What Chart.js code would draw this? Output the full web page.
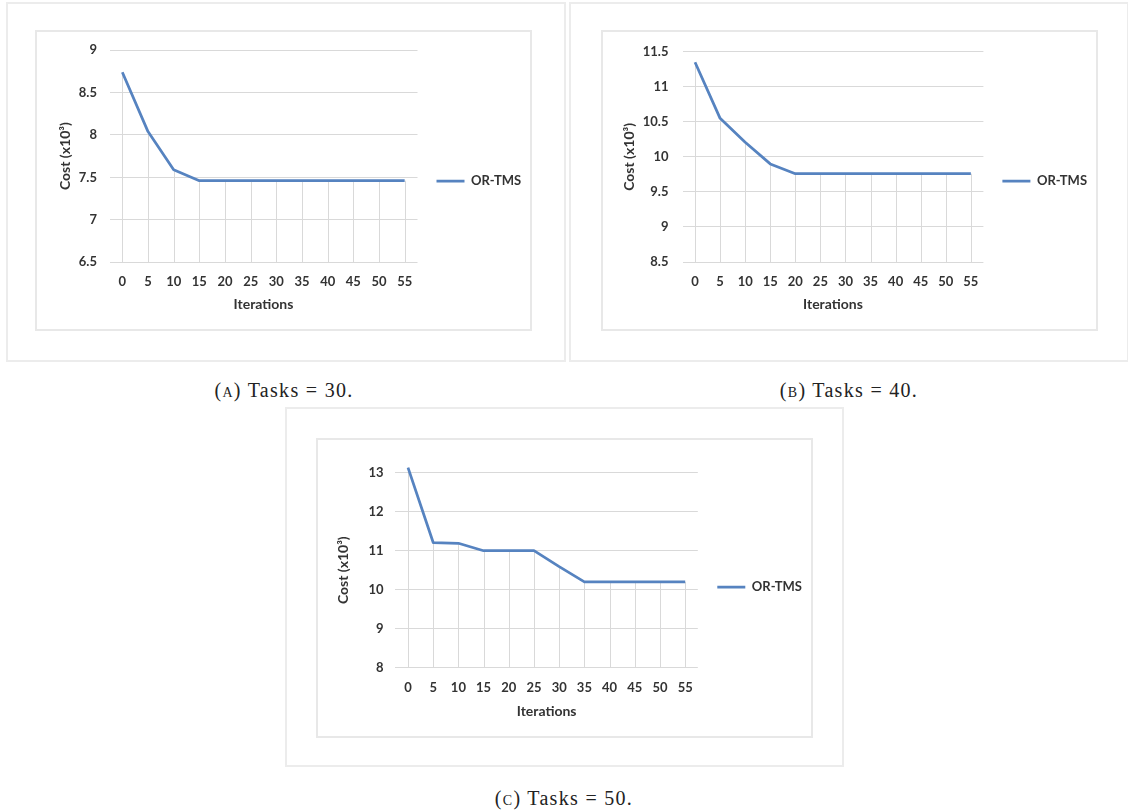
<!DOCTYPE html>
<html><head><meta charset="utf-8">
<script src="https://cdn.jsdelivr.net/npm/chart.js@4.4.0/dist/chart.umd.min.js"></script>
<style>
body{margin:0;background:#fff;width:1128px;height:811px;position:relative;overflow:hidden}
.outer{position:absolute;border:2px solid #ececec;box-sizing:border-box}
.inner{position:absolute;border:2px solid #e8e8e8;box-sizing:border-box}
canvas{position:absolute}
.cap{position:absolute;font-family:"Liberation Serif",serif;font-size:20px;line-height:20px;letter-spacing:1.3px;color:#222;text-align:center;width:300px;white-space:nowrap}
</style></head><body>
<div class="outer" style="left:6px;top:2px;width:560px;height:360px"></div>
<div class="outer" style="left:569px;top:2px;width:560px;height:360px"></div>
<div class="outer" style="left:285px;top:407px;width:559px;height:360px"></div>
<div class="inner" style="left:35px;top:30px;width:497px;height:301px"></div>
<div class="inner" style="left:601px;top:30px;width:497px;height:301px"></div>
<div class="inner" style="left:316px;top:438px;width:497px;height:300px"></div>
<canvas id="cA" style="left:35px;top:30px"></canvas>
<canvas id="cB" style="left:601px;top:30px"></canvas>
<canvas id="cC" style="left:316px;top:438px"></canvas>
<div class="cap" style="left:134px;top:380px">(<span style="font-variant:small-caps">a</span>) Tasks = 30.</div>
<div class="cap" style="left:699px;top:380px">(<span style="font-variant:small-caps">b</span>) Tasks = 40.</div>
<div class="cap" style="left:414px;top:788px">(<span style="font-variant:small-caps">c</span>) Tasks = 50.</div>
<script>
// ---- data ----
const iterations = [0, 5, 10, 15, 20, 25, 30, 35, 40, 45, 50, 55];
const costA = [8.74, 8.04, 7.59, 7.46, 7.46, 7.46, 7.46, 7.46, 7.46, 7.46, 7.46, 7.46];
const costB = [11.35, 10.55, 10.21, 9.9, 9.76, 9.76, 9.76, 9.76, 9.76, 9.76, 9.76, 9.76];
const costC = [13.13, 11.21, 11.19, 11.0, 11.0, 11.0, 10.59, 10.2, 10.2, 10.2, 10.2, 10.2];
const yTicksA = [6.5, 7, 7.5, 8, 8.5, 9];
const yTicksB = [8.5, 9, 9.5, 10, 10.5, 11, 11.5];
const yTicksC = [8, 9, 10, 11, 12, 13];
const seriesName = 'OR-TMS';
const xTitle = 'Iterations';
const yTitle = 'Cost (x10\u00B3)';

const FONT = 'Lato';
const TXT = '#333333';
const LINE = '#5683c0';
const GRID = '#d9d9d9';
const fsTick = 13, fsTitle = 14, fsLeg = 13, pw = 28;

const dropLines = {
  id: 'dropLines',
  beforeDatasetsDraw(chart) {
    const {ctx, chartArea} = chart;
    const meta = chart.getDatasetMeta(0);
    ctx.save();
    ctx.strokeStyle = GRID; ctx.lineWidth = 1;
    meta.data.forEach(pt => {
      const x = Math.round(pt.x) + 0.5;
      ctx.beginPath(); ctx.moveTo(x, pt.y); ctx.lineTo(x, chartArea.bottom); ctx.stroke();
    });
    ctx.restore();
  }
};

function measure(text, font) {
  const c = document.createElement('canvas').getContext('2d');
  c.font = font; return c.measureText(text).width;
}

function makeChart(id, values, yTicks, L) {
  const cv = document.getElementById(id);
  cv.width = L.W; cv.height = L.H;
  cv.style.width = L.W + 'px'; cv.style.height = L.H + 'px';
  const textW = measure(seriesName, 'bold ' + fsLeg + 'px ' + FONT);
  const legW = L.lp + pw + fsLeg / 2 + textW + 10;
  const pr = L.W - L.R - legW;
  new Chart(cv, {
    type: 'line',
    data: {
      labels: iterations,
      datasets: [{
        label: seriesName, data: values, clip: false,
        borderColor: LINE, backgroundColor: LINE, borderWidth: 2.75,
        pointRadius: 0, tension: 0, borderJoinStyle: 'round', borderCapStyle: 'butt'
      }]
    },
    options: {
      responsive: false, animation: false, devicePixelRatio: 1,
      layout: {padding: {top: L.T, left: 0, right: pr, bottom: 0}},
      plugins: {
        tooltip: {enabled: false},
        legend: {
          position: 'right', align: 'start',
          title: {display: true, text: '', font: {size: 10}, padding: {top: L.legC - L.T - L.lp - fsLeg / 2 - 12, bottom: 0}},
          labels: {
            usePointStyle: true, pointStyle: 'line', pointStyleWidth: pw,
            padding: L.lp, color: TXT,
            font: {family: FONT, size: fsLeg, weight: 'bold'}
          }
        }
      },
      scales: {
        x: {
          offset: true,
          grid: {display: false, drawTicks: false},
          border: {display: false},
          ticks: {color: TXT, font: {family: FONT, size: fsTick, weight: 'bold'}, padding: L.xLab - fsTick * 0.6, maxRotation: 0, autoSkip: false},
          title: {display: true, text: xTitle, color: TXT, font: {family: FONT, size: fsTitle, weight: 'bold'},
                  padding: {top: 0, bottom: L.H - L.xTit - fsTitle * 0.6}},
          afterFit: s => { s.height = L.H - L.B; }
        },
        y: {
          min: yTicks[0], max: yTicks[yTicks.length - 1],
          afterBuildTicks: s => { s.ticks = yTicks.map(v => ({value: v})); },
          grid: {color: GRID, lineWidth: 1, drawTicks: false},
          border: {display: false},
          ticks: {color: TXT, font: {family: FONT, size: fsTick, weight: 'bold'}, padding: L.yPad, callback: v => String(v)},
          title: {display: true, text: yTitle, color: TXT, font: {family: FONT, size: fsTitle, weight: 'bold'},
                  padding: {top: L.yTit - fsTitle * 0.6, bottom: 0}},
          afterFit: s => { s.width = L.L; }
        }
      }
    },
    plugins: [dropLines]
  });
}

makeChart('cA', costA, yTicksA, {W: 497, H: 301, L: 74.5, R: 382.5, T: 17, B: 232, yPad: 12.5, yTit: 30, lp: 19, legC: 151, xLab: 20, xTit: 274});
makeChart('cB', costB, yTicksB, {W: 497, H: 301, L: 81.5, R: 382.4, T: 17, B: 232, yPad: 14, yTit: 28.6, lp: 19, legC: 151, xLab: 20, xTit: 274});
makeChart('cC', costC, yTicksC, {W: 497, H: 300, L: 79.4, R: 381.8, T: 34.7, B: 229.7, yPad: 11.8, yTit: 27.6, lp: 19.5, legC: 149, xLab: 20.3, xTit: 273});
</script>
</body></html>
